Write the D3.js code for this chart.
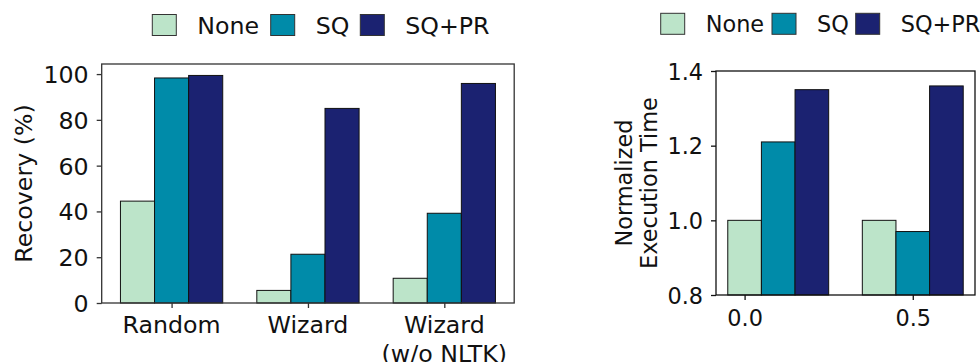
<!DOCTYPE html>
<html>
<head>
<meta charset="utf-8">
<script src="https://cdn.jsdelivr.net/npm/d3@7"></script>
<style>
  body { margin: 0; background: #fff; }
  svg { display: block; font-family: "DejaVu Sans", sans-serif; }
</style>
</head>
<body>
<div id="chart"></div>
<script>
// data
var series = ['None', 'SQ', 'SQ+PR'];
var colors = ['#bce4c9', '#008ba9', '#1b2271'];

// left panel: recovery
var recCategories = ['Random', 'Wizard', 'Wizard\n(w/o NLTK)'];
var recNone = [44.5, 5.5, 10.8];
var recSQ = [98.3, 21.3, 39.2];
var recSQPR = [99.4, 85, 95.9];
var recTicks = [0, 20, 40, 60, 80, 100];

// right panel: normalized execution time
var timeGroups = [0.0, 0.4];
var timeNone = [1.0, 1.0];
var timeSQ = [1.21, 0.97];
var timeSQPR = [1.35, 1.36];
var timeYTicks = [0.8, 1.0, 1.2, 1.4];
var timeXTicks = [0.0, 0.5];

var width_svg = 980, height_svg = 362;
var svg = d3.select('#chart').append('svg')
    .attr('width', width_svg)
    .attr('height', height_svg);

function drawLegend(x0, y0, fontSize, step) {
    var g = svg.append('g').attr('transform', 'translate(' + x0 + ',' + y0 + ')');
    series.forEach(function(s, i) {
        var xs = step[i];
        g.append('rect')
            .attr('x', xs).attr('y', 0)
            .attr('width', 24).attr('height', 21)
            .attr('fill', colors[i])
            .attr('stroke', '#333').attr('stroke-width', 1);
        g.append('text')
            .attr('x', xs + 45).attr('y', 19)
            .style('font-size', fontSize + 'px')
            .attr('fill', '#111')
            .text(s);
    });
}

// ---------- left panel ----------
var fsL = 23.7;
var xL = d3.scaleLinear().domain([-0.5125, 2.5125]).range([101.7, 514.2]);
var yL = d3.scaleLinear().domain([0, 104.4]).range([303, 64]);
var bwL = xL(0.25) - xL(0);
var recData = [recNone, recSQ, recSQPR];

var gL = svg.append('g');
recData.forEach(function(vals, si) {
    gL.selectAll('.barL' + si)
        .data(vals)
        .join('rect')
        .attr('x', function(d, i) { return xL(i + (si - 1) * 0.25) - bwL / 2; })
        .attr('y', function(d) { return yL(d); })
        .attr('width', bwL)
        .attr('height', function(d) { return yL(0) - yL(d); })
        .attr('fill', colors[si])
        .attr('stroke', '#111')
        .attr('stroke-width', 1);
});

var axL = gL.append('g').attr('transform', 'translate(' + xL.range()[0] + ',0)')
    .call(d3.axisLeft(yL).tickValues(recTicks).tickSize(5).tickPadding(8).tickFormat(d3.format('d')));
var axB = gL.append('g').attr('transform', 'translate(0,' + yL(0) + ')')
    .call(d3.axisBottom(xL).tickValues([0, 1, 2]).tickSize(5).tickPadding(6).tickFormat(''));
[axL, axB].forEach(function(a) {
    a.select('.domain').remove();
    a.selectAll('line').attr('stroke', '#333').attr('stroke-width', 1.3);
    a.selectAll('text').style('font-size', fsL + 'px').attr('fill', '#111').style('font-family', '"DejaVu Sans"');
});
axL.selectAll('text').attr('dy', '0.36em');

// category labels (multi-line)
recCategories.forEach(function(c, i) {
    var t = gL.append('text')
        .attr('x', xL(i)).attr('y', 333)
        .attr('text-anchor', 'middle')
        .style('font-size', fsL + 'px')
        .attr('fill', '#111');
    c.split('\n').forEach(function(line, j) {
        t.append('tspan').attr('x', xL(i)).attr('dy', j === 0 ? 0 : 29).text(line);
    });
});

gL.append('rect')
    .attr('x', xL.range()[0]).attr('y', yL.range()[1])
    .attr('width', xL.range()[1] - xL.range()[0])
    .attr('height', yL.range()[0] - yL.range()[1])
    .attr('fill', 'none').attr('stroke', '#333').attr('stroke-width', 1.3);

gL.append('text')
    .attr('transform', 'translate(32,' + (64 + 303) / 2 + ') rotate(-90)')
    .attr('text-anchor', 'middle')
    .style('font-size', fsL + 'px')
    .attr('fill', '#111')
    .text('Recovery (%)');

drawLegend(152.3, 14.5, fsL, [0, 118.4, 208]);

// ---------- right panel ----------
var fsR = 22.4;
var xR = d3.scaleLinear().domain([-0.085, 0.685]).range([716, 975]);
var yR = d3.scaleLinear().domain([0.8, 1.4]).range([295, 71]);
var bwR = xR(0.1) - xR(0);
var timeData = [timeNone, timeSQ, timeSQPR];

var gR = svg.append('g');
timeData.forEach(function(vals, si) {
    gR.selectAll('.barR' + si)
        .data(vals)
        .join('rect')
        .attr('x', function(d, i) { return xR(timeGroups[i] + si * 0.1) - bwR / 2; })
        .attr('y', function(d) { return yR(d); })
        .attr('width', bwR)
        .attr('height', function(d) { return yR(0.8) - yR(d); })
        .attr('fill', colors[si])
        .attr('stroke', '#111')
        .attr('stroke-width', 1);
});

var axRL = gR.append('g').attr('transform', 'translate(' + xR.range()[0] + ',0)')
    .call(d3.axisLeft(yR).tickValues(timeYTicks).tickSize(5).tickPadding(8).tickFormat(d3.format('.1f')));
var axRB = gR.append('g').attr('transform', 'translate(0,' + yR(0.8) + ')')
    .call(d3.axisBottom(xR).tickValues(timeXTicks).tickSize(5).tickPadding(6).tickFormat(d3.format('.1f')));
[axRL, axRB].forEach(function(a) {
    a.select('.domain').remove();
    a.selectAll('line').attr('stroke', '#111').attr('stroke-width', 1.3);
    a.selectAll('text').style('font-size', fsR + 'px').attr('fill', '#111').style('font-family', '"DejaVu Sans"');
});
axRL.selectAll('text').attr('dy', '0.36em');
axRB.selectAll('text').attr('dy', '0.9em');

gR.append('rect')
    .attr('x', xR.range()[0]).attr('y', yR.range()[1])
    .attr('width', xR.range()[1] - xR.range()[0])
    .attr('height', yR.range()[0] - yR.range()[1])
    .attr('fill', 'none').attr('stroke', '#111').attr('stroke-width', 1.3);

var yl = gR.append('text')
    .attr('transform', 'translate(0,' + (71 + 295) / 2 + ') rotate(-90)')
    .attr('text-anchor', 'middle')
    .style('font-size', fsR + 'px')
    .attr('fill', '#111');
yl.append('tspan').attr('x', 0).attr('y', 632).text('Normalized');
yl.append('tspan').attr('x', 0).attr('y', 657).text('Execution Time');

drawLegend(660.7, 13.3, fsR, [0, 111.3, 195]);
</script>
</body>
</html>
